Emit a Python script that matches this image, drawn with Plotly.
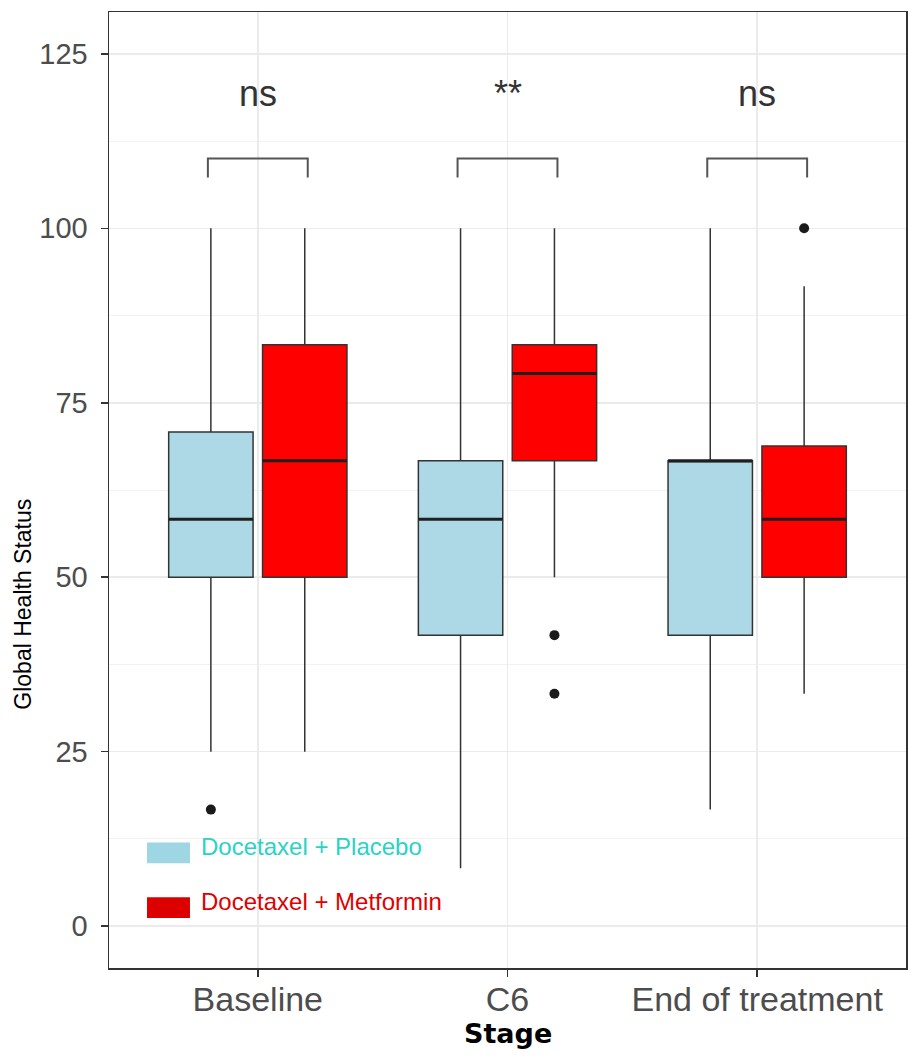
import plotly.graph_objects as go

# ---------------- data ----------------
stages = ["Baseline", "C6", "End of treatment"]

placebo_name = "Docetaxel + Placebo"
placebo_q1 = [50.0, 41.7, 41.7]
placebo_median = [58.3, 58.3, 66.7]
placebo_q3 = [70.8, 66.7, 66.7]
placebo_lower = [25.0, 8.3, 16.7]
placebo_upper = [100.0, 100.0, 100.0]
placebo_outliers = [[16.7], [], []]

metformin_name = "Docetaxel + Metformin"
metformin_q1 = [50.0, 66.7, 50.0]
metformin_median = [66.7, 79.2, 58.3]
metformin_q3 = [83.3, 83.3, 68.8]
metformin_lower = [25.0, 50.0, 33.3]
metformin_upper = [100.0, 100.0, 91.7]
metformin_outliers = [[], [41.7, 33.3], [100.0]]

sig_labels = ["ns", "**", "ns"]
bracket_top = 110.0
bracket_tip = 107.3
label_y = 119.3

y_ticks = [0, 25, 50, 75, 100, 125]

# ---------------- styles ----------------
FONT = "Liberation Sans, Arial, sans-serif"
placebo_fill = "#ADD8E6"
metformin_fill = "#FF0000"
edge = "#333333"
DODGE = 0.188          # half distance between the two dodged boxes
BOX_W = 0.338          # box width in category units
BRACKET_HALF = 0.2

idx = list(range(len(stages)))

fig = go.Figure()


def add_group(q1, med, q3, lo, hi, outl, fill, shift):
    xs = [i + shift for i in idx]
    fig.add_trace(go.Box(
        x=xs,
        q1=q1, median=med, q3=q3,
        lowerfence=lo, upperfence=hi,
        width=BOX_W,
        fillcolor=fill,
        line=dict(color=edge, width=1.5),
        whiskerwidth=0,
        boxpoints=False,
        showlegend=False,
        hoverinfo="skip",
    ))
    # thicker median line (ggplot style)
    mx, my = [], []
    for x, m in zip(xs, med):
        mx += [x - BOX_W / 2, x + BOX_W / 2, None]
        my += [m, m, None]
    fig.add_trace(go.Scatter(x=mx, y=my, mode="lines",
                             line=dict(color="#1f1f1f", width=3),
                             showlegend=False, hoverinfo="skip"))
    # outliers
    ox, oy = [], []
    for x, vals in zip(xs, outl):
        for v in vals:
            ox.append(x)
            oy.append(v)
    fig.add_trace(go.Scatter(x=ox, y=oy, mode="markers",
                             marker=dict(color="#1a1a1a", size=10),
                             showlegend=False, hoverinfo="skip"))


add_group(placebo_q1, placebo_median, placebo_q3, placebo_lower,
          placebo_upper, placebo_outliers, placebo_fill, -DODGE)
add_group(metformin_q1, metformin_median, metformin_q3, metformin_lower,
          metformin_upper, metformin_outliers, metformin_fill, DODGE)

# significance brackets
for i, lab in enumerate(sig_labels):
    fig.add_trace(go.Scatter(
        x=[i - BRACKET_HALF, i - BRACKET_HALF, i + BRACKET_HALF, i + BRACKET_HALF],
        y=[bracket_tip, bracket_top, bracket_top, bracket_tip],
        mode="lines", line=dict(color="#555555", width=2),
        showlegend=False, hoverinfo="skip"))

shapes = []
annotations = []
for i, lab in enumerate(sig_labels):
    annotations.append(dict(x=i, y=label_y, xref="x", yref="y", text=lab,
                            showarrow=False, yanchor="middle",
                            font=dict(family=FONT, size=36, color="#333333")))

# inset legend
legend_items = [
    (placebo_name, "#9ED6E3", "#2BD2C6", 12.0, 9.0, 11.4),
    (metformin_name, "#DD0000", "#E00000", 4.15, 1.15, 3.6),
]
for name, sw, tc, ytop, ybot, ytext in legend_items:
    shapes.append(dict(type="rect", xref="paper", yref="y",
                       x0=0.0477, x1=0.1016, y0=ybot, y1=ytop,
                       fillcolor=sw, line=dict(width=0), layer="above"))
    annotations.append(dict(x=0.113, y=ytext, xref="paper", yref="y",
                            text=name, showarrow=False, xanchor="left",
                            yanchor="middle",
                            font=dict(family=FONT, size=24, color=tc)))

# axis titles
annotations.append(dict(x=0.5, y=-0.069, xref="paper", yref="paper",
                        text="<b>Stage</b>", showarrow=False,
                        xanchor="center", yanchor="middle",
                        font=dict(family="DejaVu Sans, sans-serif", size=27,
                                  color="black")))
annotations.append(dict(x=-0.108, y=0.381, xref="paper", yref="paper",
                        text="Global Health Status", showarrow=False,
                        textangle=-90, xanchor="center", yanchor="middle",
                        font=dict(family=FONT, size=23, color="black")))

fig.update_layout(
    width=911, height=1060,
    margin=dict(l=109, r=5, t=12, b=92),
    paper_bgcolor="white", plot_bgcolor="white",
    shapes=shapes, annotations=annotations,
    showlegend=False,
)

fig.update_xaxes(
    range=[-0.596, 2.596],
    tickvals=idx, ticktext=stages,
    showgrid=True, gridcolor="#EBEBEB", gridwidth=1.5,
    showline=True, linecolor=edge, linewidth=1.5, mirror=True,
    ticks="outside", ticklen=7, tickcolor=edge, tickwidth=1.5,
    tickfont=dict(family=FONT, size=34, color="#4D4D4D"),
    ticklabelstandoff=-6,
    zeroline=False, automargin=False,
)

fig.update_yaxes(
    range=[-6.0, 131.0],
    tickvals=y_ticks,
    showgrid=True, gridcolor="#EBEBEB", gridwidth=1.5,
    minor=dict(dtick=12.5, tick0=0, showgrid=True, gridcolor="#F2F2F2", gridwidth=1),
    showline=True, linecolor=edge, linewidth=1.5, mirror=True,
    ticks="outside", ticklen=7, tickcolor=edge, tickwidth=1.5,
    tickfont=dict(family=FONT, size=29, color="#4D4D4D"),
    ticklabelstandoff=7,
    zeroline=False, automargin=False,
)

fig.write_html(
    "out.html",
    config={"displayModeBar": False, "staticPlot": True},
    post_script="document.body.style.margin='0px';document.body.style.overflow='hidden';",
)
